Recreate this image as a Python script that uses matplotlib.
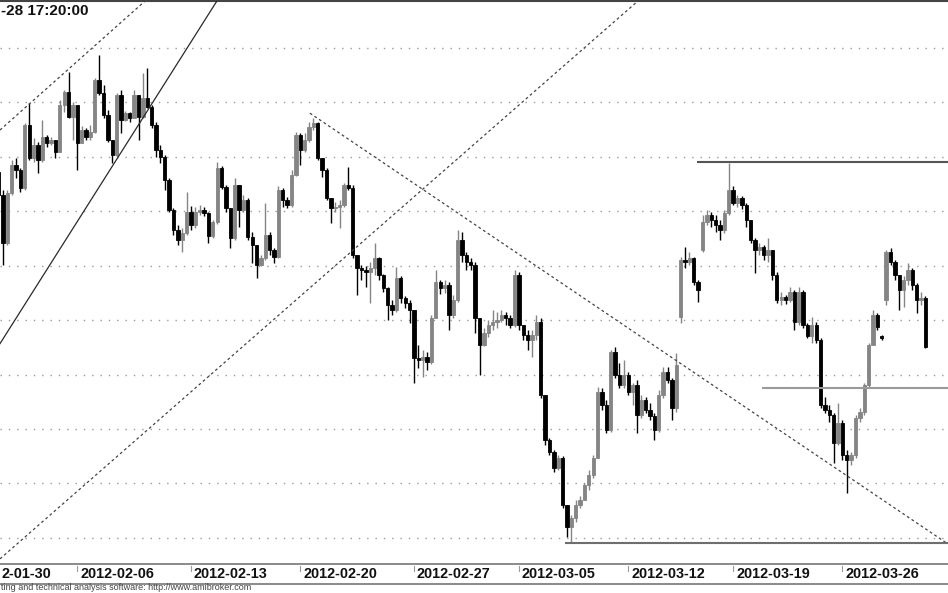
import numpy as np
import matplotlib
matplotlib.use("Agg")
import matplotlib.pyplot as plt
from matplotlib import transforms
from matplotlib.lines import Line2D

plt.rcParams['font.family'] = ['Liberation Sans', 'DejaVu Sans']

# ---------------- data ----------------
# texts as visible in the (cropped) reference
title_text = "-28 17:20:00"
footer_text = "ting and technical analysis software: http://www.amibroker.com"

week_labels = ["2-01-30", "2012-02-06", "2012-02-13", "2012-02-20", "2012-02-27",
               "2012-03-05", "2012-03-12", "2012-03-19", "2012-03-26"]
week_start_bars = [0, 25, 51, 76, 102, 126, 151, 175, 200]

first_bar = 7
first_open = 2367.2
close = [
    2363.0, 2354.2, 2363.4, 2368.5, 2367.6, 2364.3, 2375.8, 2369.8, 2372.2, 2369.4,
    2373.6, 2372.5, 2373.1, 2370.9, 2379.5, 2381.9, 2377.3, 2379.5, 2372.5, 2374.9,
    2373.6, 2374.6, 2384.1, 2381.7, 2377.7, 2373.1, 2370.3, 2381.4, 2376.8, 2378.0,
    2377.1, 2381.4, 2377.3, 2380.8, 2379.1, 2375.8, 2371.3, 2370.0, 2365.7, 2360.2,
    2356.6, 2354.7, 2356.0, 2359.9, 2357.5, 2359.9, 2360.2, 2359.7, 2355.5, 2358.0,
    2367.9, 2364.5, 2360.6, 2355.1, 2364.8, 2360.2, 2362.1, 2355.3, 2353.8, 2350.1,
    2351.4, 2355.6, 2352.9, 2351.6, 2363.9, 2362.1, 2361.2, 2366.7, 2374.0, 2371.3,
    2373.1, 2375.5, 2376.2, 2369.8, 2367.6, 2362.4, 2360.6, 2360.8, 2361.2, 2364.8,
    2364.3, 2352.0, 2349.6, 2349.2, 2348.8, 2349.6, 2351.4, 2348.3, 2345.9, 2342.8,
    2341.9, 2347.7, 2344.1, 2343.2, 2341.9, 2333.1, 2332.7, 2333.2, 2332.3, 2340.4,
    2347.0, 2345.9, 2346.5, 2340.9, 2343.7, 2354.7, 2352.0, 2350.7, 2350.1, 2340.4,
    2335.4, 2337.6, 2339.1, 2339.7, 2340.0, 2340.9, 2340.4, 2339.1, 2348.3, 2339.1,
    2337.3, 2336.4, 2337.3, 2339.7, 2326.3, 2318.0, 2315.8, 2312.9, 2314.7, 2306.1,
    2302.0, 2303.7, 2306.1, 2307.0, 2309.7, 2311.6, 2314.7, 2326.8, 2324.4, 2319.8,
    2334.2, 2329.9, 2328.1, 2329.9, 2326.8, 2328.1, 2322.6, 2325.3, 2323.5, 2322.4,
    2319.8, 2326.3, 2330.5, 2329.0, 2323.9, 2331.8, 2351.0, 2350.7, 2351.4, 2347.0,
    2345.5, 2358.0, 2359.3, 2358.4, 2357.5, 2356.6, 2359.7, 2363.9, 2361.5, 2362.4,
    2361.2, 2358.4, 2354.7, 2352.9, 2353.4, 2352.0, 2352.9, 2348.3, 2343.7, 2344.3,
    2343.7, 2345.2, 2339.7, 2345.2, 2339.1, 2337.1, 2339.1, 2336.4, 2324.4, 2323.5,
    2322.6, 2317.4, 2321.1, 2315.2, 2314.3, 2315.2, 2322.0, 2323.1, 2328.1, 2335.4,
    2340.9, 2338.7, 2336.7, 2352.5, 2350.7, 2348.3, 2345.5, 2347.4, 2349.2, 2346.5,
    2343.7, 2344.1, 2335.1,
]
high = [
    2368.1, 2363.9, 2363.9, 2369.4, 2369.8, 2367.9, 2376.2, 2379.9, 2373.5, 2372.7,
    2376.8, 2374.0, 2373.6, 2373.1, 2380.4, 2382.3, 2385.6, 2380.1, 2379.5, 2375.7,
    2375.3, 2375.8, 2384.5, 2388.7, 2383.2, 2378.6, 2373.1, 2381.7, 2382.3, 2378.4,
    2378.2, 2382.3, 2381.4, 2385.4, 2386.3, 2379.5, 2376.4, 2372.2, 2370.3, 2366.1,
    2360.6, 2357.5, 2356.9, 2363.5, 2361.0, 2360.8, 2361.2, 2360.8, 2359.9, 2358.4,
    2369.0, 2368.3, 2364.8, 2360.6, 2366.1, 2364.8, 2363.0, 2362.4, 2356.2, 2353.8,
    2352.0, 2361.5, 2356.2, 2353.3, 2364.6, 2364.3, 2362.6, 2367.6, 2374.6, 2374.4,
    2374.4, 2376.4, 2377.1, 2376.4, 2369.8, 2367.9, 2362.4, 2361.7, 2362.1, 2365.2,
    2368.1, 2364.8, 2352.0, 2350.1, 2349.9, 2350.7, 2354.2, 2351.6, 2348.5, 2346.1,
    2343.7, 2349.8, 2348.1, 2344.4, 2343.7, 2341.9, 2335.4, 2334.5, 2334.2, 2340.9,
    2349.2, 2347.4, 2347.4, 2347.0, 2344.6, 2356.6, 2356.2, 2352.5, 2351.4, 2350.7,
    2340.4, 2338.6, 2340.0, 2341.9, 2341.5, 2341.9, 2341.5, 2340.9, 2349.2, 2348.8,
    2339.1, 2338.2, 2338.2, 2340.9, 2340.4, 2326.3, 2318.4, 2316.2, 2315.2, 2315.1,
    2306.1, 2304.2, 2307.0, 2307.7, 2310.1, 2312.5, 2315.2, 2327.7, 2327.5, 2325.3,
    2334.5, 2335.1, 2332.1, 2332.7, 2330.5, 2328.5, 2329.0, 2326.3, 2325.9, 2324.8,
    2323.0, 2327.2, 2331.4, 2331.4, 2329.4, 2334.0, 2351.6, 2353.4, 2352.5, 2351.6,
    2347.4, 2359.3, 2360.2, 2359.9, 2359.3, 2358.4, 2360.2, 2368.9, 2364.6, 2363.0,
    2362.8, 2361.5, 2358.4, 2355.1, 2354.2, 2353.8, 2355.1, 2352.9, 2348.8, 2345.2,
    2344.6, 2346.1, 2345.5, 2346.1, 2345.5, 2339.5, 2340.6, 2339.7, 2336.7, 2325.9,
    2324.4, 2323.0, 2324.8, 2321.7, 2316.2, 2315.8, 2322.6, 2323.9, 2328.5, 2335.8,
    2341.9, 2341.3, 2337.3, 2352.9, 2353.3, 2351.0, 2348.3, 2348.1, 2350.5, 2349.6,
    2346.8, 2345.2, 2344.4,
]
low = [
    2361.2, 2350.1, 2353.8, 2363.0, 2366.1, 2363.5, 2363.9, 2369.4, 2369.0, 2367.0,
    2369.0, 2371.8, 2372.2, 2369.8, 2370.9, 2378.2, 2377.1, 2373.1, 2367.6, 2372.7,
    2373.1, 2373.1, 2374.4, 2381.4, 2377.1, 2372.7, 2368.9, 2370.0, 2374.4, 2376.6,
    2376.4, 2377.1, 2373.1, 2377.1, 2379.0, 2375.3, 2370.0, 2368.9, 2363.9, 2359.9,
    2355.6, 2353.8, 2352.5, 2355.6, 2356.6, 2356.9, 2359.3, 2359.1, 2354.2, 2355.1,
    2357.7, 2364.1, 2359.9, 2353.3, 2354.7, 2357.1, 2359.9, 2354.7, 2350.5, 2347.7,
    2349.9, 2351.0, 2352.0, 2350.5, 2351.4, 2360.8, 2360.6, 2360.8, 2366.5, 2368.5,
    2370.9, 2372.7, 2374.9, 2369.4, 2366.3, 2362.1, 2357.8, 2359.9, 2356.9, 2360.8,
    2363.9, 2351.4, 2344.6, 2347.4, 2346.1, 2343.2, 2348.3, 2347.4, 2345.2, 2340.0,
    2340.9, 2341.5, 2343.2, 2342.2, 2339.5, 2328.5, 2331.2, 2329.6, 2330.9, 2331.9,
    2340.4, 2344.8, 2345.0, 2338.2, 2340.4, 2343.3, 2350.7, 2349.2, 2349.2, 2337.6,
    2329.9, 2335.3, 2336.9, 2338.2, 2338.6, 2339.7, 2339.1, 2338.6, 2338.7, 2338.2,
    2336.4, 2334.5, 2333.2, 2336.4, 2325.7, 2317.1, 2315.2, 2312.1, 2312.5, 2305.5,
    2300.2, 2299.1, 2302.9, 2305.5, 2307.0, 2308.8, 2311.0, 2314.7, 2323.5, 2319.3,
    2319.5, 2329.4, 2327.5, 2327.5, 2326.3, 2324.4, 2319.3, 2322.0, 2323.0, 2321.7,
    2318.0, 2319.5, 2325.7, 2328.5, 2321.7, 2323.1, 2339.5, 2349.6, 2350.1, 2346.5,
    2343.3, 2352.5, 2357.5, 2357.1, 2356.2, 2354.7, 2356.0, 2359.3, 2361.2, 2360.8,
    2360.4, 2357.1, 2354.2, 2348.7, 2352.0, 2351.0, 2350.7, 2347.4, 2343.2, 2342.8,
    2343.0, 2343.3, 2338.2, 2339.1, 2338.6, 2336.7, 2335.8, 2335.8, 2323.9, 2323.0,
    2321.3, 2313.8, 2317.1, 2314.3, 2308.3, 2313.4, 2314.7, 2321.3, 2322.6, 2327.7,
    2336.4, 2338.2, 2336.4, 2342.8, 2350.1, 2347.4, 2341.9, 2342.4, 2346.5, 2345.5,
    2341.3, 2342.8, 2334.9,
]
# bars that opened away from the previous close (session gaps)
gap_opens = {163: 2340.6, 168: 2352.9, 209: 2337.1, 210: 2343.7}

# trend lines (bar index, price)
solid_trend = [(18.3, 2349.6), (49.6, 2389.3)]
channel_trend = [(7.32, 2374.9), (27.9, 2389.6)]
support_trend = [(75.9, 2344.3), (112.5, 2370.0)]
resistance_trend = [(78.2, 2378.0), (208.6, 2307.3)]
level_prices = [2369.0, 2327.5, 2299.0]
level_start_bars = [166.7, 181.6, 136.5]
level_colors = ['#555555', '#9a9a9a', '#6e6e6e']
grid_levels = [2300, 2310, 2320, 2330, 2340, 2350, 2360, 2370, 2380, 2390]

# ---------------- figure ----------------
W, H = 948, 593
fig = plt.figure(figsize=(W / 100, H / 100), dpi=100)
fig.patch.set_facecolor('white')
ax_bottom_px, ax_top_px = 564, 1
ax = fig.add_axes([0, (H - ax_bottom_px) / H, 1, (ax_bottom_px - ax_top_px) / H])
x_lo, x_hi = 7.32, 224.15
ax.set_xlim(x_lo, x_hi)
ax.set_ylim(2295.2, 2398.6)
ax.set_xticks([])
ax.set_yticks([])
for s in ['left', 'right']:
    ax.spines[s].set_visible(False)
ax.spines['top'].set_color('#444444')
ax.spines['top'].set_linewidth(1.5)
ax.spines['bottom'].set_color('#8a8a8a')
ax.spines['bottom'].set_linewidth(1.4)

# dotted horizontal grid
for g in grid_levels:
    ax.axhline(g, color='#9a9a9a', lw=1.0, linestyle=(0, (1, 5)), zorder=1)

# candles
c = np.array(close)
hi = np.array(high)
lo = np.array(low)
bars = np.arange(first_bar, first_bar + len(c))
o = np.empty_like(c)
o[0] = first_open
o[1:] = c[:-1]
for b, val in gap_opens.items():
    o[b - first_bar] = val
up = c >= o
colors = np.where(up, '#858585', '#000000')
ax.vlines(bars, lo, hi, colors=colors, lw=1.0, zorder=3)
ax.bar(bars, np.abs(c - o), bottom=np.minimum(o, c), width=0.76,
       color=colors, edgecolor=colors, linewidth=0.6, zorder=4)

# trend lines
ax.axline(solid_trend[0], solid_trend[1], color='#2a2a2a', lw=0.9, zorder=5)
ax.axline(channel_trend[0], channel_trend[1], color='#444444', lw=0.9,
          linestyle=(0, (2.2, 2.2)), zorder=5)
ax.axline(support_trend[0], support_trend[1], color='#444444', lw=0.9,
          linestyle=(0, (2.2, 2.2)), zorder=5)
(rx0, ry0), (rx1, ry1) = resistance_trend
slope = (ry1 - ry0) / (rx1 - rx0)
ax.plot([rx0, x_hi], [ry0, ry0 + slope * (x_hi - rx0)], color='#444444', lw=0.9,
        linestyle=(0, (2.2, 2.2)), zorder=5)
for lvl, xs, col in zip(level_prices, level_start_bars, level_colors):
    ax.plot([xs, x_hi], [lvl, lvl], color=col, lw=1.5, zorder=5, solid_capstyle='butt')

# title (visible part, at the left edge)
fig.text(1 / W, (H - 15) / H, title_text, ha='left', va='baseline',
         fontsize=11, fontweight='bold', color='#111111')

# date axis
blend = transforms.blended_transform_factory(ax.transData, fig.transFigure)
label_tr = transforms.offset_copy(blend, fig=fig, x=3, y=0, units='dots')
for b, lab in zip(week_start_bars, week_labels):
    if x_lo <= b <= x_hi:
        fig.add_artist(Line2D([b, b], [(H - 571) / H, (H - 566) / H], transform=blend,
                              color='#9a9a9a', lw=0.8, clip_on=False))
        fig.text(b, (H - 578.5) / H, lab, transform=label_tr, ha='left', va='baseline',
                 fontsize=10.4, fontweight='bold', color='#111111')
    else:
        # first week label, visible part only, at the left edge
        fig.text(1 / W, (H - 578.5) / H, lab, ha='left', va='baseline',
                 fontsize=10.4, fontweight='bold', color='#111111')

# lower separator line and footer
fig.add_artist(Line2D([0, 1], [(H - 583.5) / H] * 2, transform=fig.transFigure,
                      color='#8a8a8a', lw=1.4))
fig.text(1 / W, (H - 590) / H, footer_text, ha='left', va='baseline',
         fontsize=6.5, color='#444444')

fig.savefig('out.png', dpi=100, facecolor='white')
